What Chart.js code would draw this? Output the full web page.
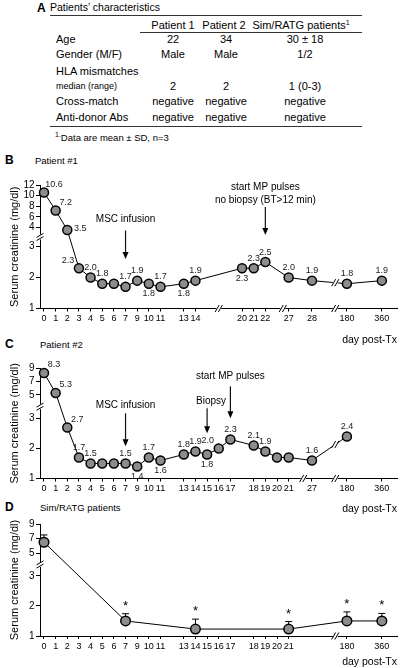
<!DOCTYPE html>
<html>
<head>
<meta charset="utf-8">
<script src="https://cdn.jsdelivr.net/npm/chart.js@4.4.1/dist/chart.umd.min.js"></script>
<style>
  body { margin:0; width:400px; height:668px; position:relative; background:#fff; overflow:hidden;
         font-family:'Liberation Sans', Arial, Helvetica, sans-serif; color:#000; }
  .t { position:absolute; white-space:nowrap; font-size:11px; line-height:13px; transform:translateY(-50%); }
  .c { transform:translate(-50%,-50%); }
  .sm { font-size:9px; }
  .hl { position:absolute; height:0; border-top:1px solid #333; }
  .pl { position:absolute; font-weight:bold; font-size:12px; line-height:14px; transform:translateY(-50%); }
  sup { font-size:7px; vertical-align:4px; line-height:0; }
  canvas { position:absolute; left:0; }
</style>
</head>
<body>
<!-- panel A: table -->
<div class="pl" style="left:37px;top:8px">A</div>
<div class="t" style="left:50px;top:7px;font-size:10.5px">Patients’ characteristics</div>
<div class="hl" style="left:50px;top:15px;width:312px"></div>
<div class="t c" style="left:173px;top:25px">Patient 1</div>
<div class="t c" style="left:224px;top:25px">Patient 2</div>
<div class="t c" style="left:301px;top:25px">Sim/RATG patients<sup>1</sup></div>
<div class="hl" style="left:140px;top:31.5px;width:222px"></div>
<div id="rows"></div>
<div class="hl" style="left:50px;top:126px;width:312px"></div>
<div class="t" style="left:55px;top:137px;font-size:9.5px"><sup>1.</sup>Data are mean ± SD, n=3</div>

<div class="pl" style="left:5px;top:160px">B</div>
<div class="t" style="left:35px;top:160px;font-size:9.5px">Patient #1</div>
<div class="pl" style="left:5px;top:344px">C</div>
<div class="t" style="left:40px;top:344px;font-size:9.5px">Patient #2</div>
<div class="pl" style="left:5px;top:507px">D</div>
<div class="t" style="left:40px;top:507px;font-size:9.5px">Sim/RATG patients</div>

<canvas id="chartB" width="400" height="196" style="top:150px"></canvas>
<canvas id="chartC" width="400" height="160" style="top:355px"></canvas>
<canvas id="chartD" width="400" height="153" style="top:515px"></canvas>

<script>
// ---- table (panel A) ----
const rowNames = ['Age', 'Gender (M/F)', 'HLA mismatches', 'median (range)', 'Cross-match', 'Anti-donor Abs'];
const patient1 = ['22', 'Male', '', '2', 'negative', 'negative'];
const patient2 = ['34', 'Male', '', '2', 'negative', 'negative'];
const simRatg = ['30 ± 18', '1/2', '', '1 (0-3)', 'negative', 'negative'];

// ---- panel B: patient #1 ----
const catsB = ['0','1','2','3','4','5','6','7','9','10','11','','13','14','','','','20','21','22','','27','','28','','','180','','','360'];
const daysB = ['0','1','2','3','4','5','6','7','9','10','11','13','14','20','21','22','27','28','180','360'];
const creatB = [10.6, 7.2, 3.5, 2.3, 2.0, 1.8, 1.8, 1.7, 1.9, 1.8, 1.7, 1.8, 1.9, 2.3, 2.3, 2.5, 2.0, 1.9, 1.8, 1.9];
const labelPosB = ['ar','ar','r','al','a','a','','a','a','b','a','b','a','b','a','a','a','a','a','a'];
const yTicksB = [1, 2, 3, 4, 6, 8, 10, 12];

// ---- panel C: patient #2 ----
const catsC = ['0','1','2','3','4','5','6','7','9','10','11','','13','14','15','16','17','','18','19','20','21','','27','','','180','','','360'];
const daysC = ['0','1','2','3','4','5','6','7','9','10','11','13','14','15','16','17','18','19','20','21','27','180'];
const creatC = [8.3, 5.3, 2.7, 1.7, 1.5, 1.5, 1.5, 1.5, 1.4, 1.7, 1.6, 1.8, 1.9, 1.8, 2.0, 2.3, 2.1, 1.9, 1.7, 1.7, 1.6, 2.4];
const labelPosC = ['ar','ar','ar','a','a','','','a','b','a','b','a','a','b','al','a','a','a','','','a','a'];
const yTicksC = [1, 2, 3, 5, 7, 9];

// ---- panel D: Sim/RATG patients (mean ± SD) ----
const catsD = ['0','1','2','3','4','5','6','7','9','10','11','','13','14','15','16','17','','18','19','20','21','','','','','180','','','360'];
const daysD = ['0', '7', '14', '21', '180', '360'];
const creatD = [6.5, 1.5, 1.23, 1.23, 1.5, 1.5];
const sdD = [1.0, 0.24, 0.33, 0.25, 0.3, 0.25];
const signifD = ['', '*', '*', '*', '*', '*'];
const yTicksD = [1, 2, 3, 5, 7, 9];

// table rows
const rowY = [38.5, 54, 70.5, 86, 101, 116.5];
let html = '';
rowNames.forEach((n, i) => {
  const cls = i === 3 ? 't sm' : 't';
  html += `<div class="${cls}" style="left:56px;top:${rowY[i]}px">${n}</div>`;
  html += `<div class="t c" style="left:173px;top:${rowY[i]}px">${patient1[i]}</div>`;
  html += `<div class="t c" style="left:226px;top:${rowY[i]}px">${patient2[i]}</div>`;
  html += `<div class="t c" style="left:305px;top:${rowY[i]}px">${simRatg[i]}</div>`;
});
document.getElementById('rows').innerHTML = html;

Chart.defaults.font.family = "'Liberation Sans', Arial, Helvetica, sans-serif";
Chart.defaults.color = '#000';

// broken y axis: linear below the break, compressed linear above it
function brokenY(lowTop, upStart, upBase, ratio) {
  return v => v <= lowTop ? v : upStart + (v - upBase) * ratio;
}

const labelOffsets = { a: [0, -10], b: [0, 10], ar: [10, -8], r: [13, -1], al: [-11, -8] };

function slashes(ctx, x, y, horiz) {
  ctx.save();
  ctx.fillStyle = '#fff';
  if (horiz) ctx.fillRect(x - 2.5, y - 1.5, 5, 3);
  else ctx.fillRect(x - 1.5, y - 2.5, 3, 5);
  ctx.strokeStyle = '#000';
  ctx.lineWidth = 1;
  ctx.beginPath();
  for (const k of [-1.6, 1.6]) {
    if (horiz) { ctx.moveTo(x + k - 2, y + 3.5); ctx.lineTo(x + k + 2, y - 3.5); }
    else { ctx.moveTo(x - 3.5, y + k + 2); ctx.lineTo(x + 3.5, y + k - 2); }
  }
  ctx.stroke();
  ctx.restore();
}

function makeExtras(p) {
  return {
    id: 'extras',
    beforeDatasetsDraw(chart) {
      if (!p.sd) return;
      const { ctx, scales: { x, y } } = chart;
      ctx.save();
      ctx.strokeStyle = '#000';
      ctx.lineWidth = 1;
      p.days.forEach((d, i) => {
        const px = x.getPixelForValue(p.cats.indexOf(d));
        const py = y.getPixelForValue(p.t(p.vals[i]));
        const pt = y.getPixelForValue(p.t(p.vals[i] + p.sd[i]));
        ctx.beginPath();
        ctx.moveTo(px, py); ctx.lineTo(px, pt);
        ctx.moveTo(px - 3.5, pt); ctx.lineTo(px + 3.5, pt);
        ctx.stroke();
      });
      ctx.restore();
    },
    afterDraw(chart) {
      const { ctx, chartArea, scales: { x, y } } = chart;
      // axis breaks
      p.xBreaks.forEach(b => slashes(ctx, x.getPixelForValue(b), chartArea.bottom, true));
      slashes(ctx, chartArea.left, y.getPixelForValue(p.yBreak), false);
      // break mark on the line segment
      if (p.lineBreak) {
        const [d0, d1, b] = p.lineBreak;
        const i0 = p.days.indexOf(d0), i1 = p.days.indexOf(d1);
        const x0 = x.getPixelForValue(p.cats.indexOf(d0)), x1 = x.getPixelForValue(p.cats.indexOf(d1));
        const y0 = y.getPixelForValue(p.t(p.vals[i0])), y1 = y.getPixelForValue(p.t(p.vals[i1]));
        const bx = x.getPixelForValue(b);
        const by = y0 + (y1 - y0) * (bx - x0) / (x1 - x0);
        slashes(ctx, bx, by, true);
      }
      // value labels
      ctx.save();
      ctx.textAlign = 'center';
      ctx.textBaseline = 'middle';
      ctx.fillStyle = '#222';
      ctx.font = "9px 'Liberation Sans', Arial, sans-serif";
      if (p.labelPos) p.days.forEach((d, i) => {
        const pos = p.labelPos[i];
        if (!pos) return;
        const px = x.getPixelForValue(p.cats.indexOf(d));
        const py = y.getPixelForValue(p.t(p.vals[i]));
        const [dx, dy] = labelOffsets[pos];
        ctx.fillText(p.vals[i].toFixed(1), px + dx, py + dy);
      });
      // significance stars
      if (p.stars) {
        ctx.fillStyle = '#000';
        ctx.font = "13px 'Liberation Sans', Arial, sans-serif";
        ctx.textBaseline = 'alphabetic';
        p.days.forEach((d, i) => {
          if (!p.stars[i]) return;
          const px = x.getPixelForValue(p.cats.indexOf(d));
          const pt = y.getPixelForValue(p.t(p.vals[i] + p.sd[i]));
          ctx.fillText(p.stars[i], px, pt - 4);
        });
      }
      // annotations with arrows
      ctx.fillStyle = '#000';
      ctx.font = "10px 'Liberation Sans', Arial, sans-serif";
      ctx.textBaseline = 'middle';
      (p.notes || []).forEach(n => {
        const ax = x.getPixelForValue(p.cats.indexOf(n.day));
        const top = chartArea.top;
        n.lines.forEach((s, k) => ctx.fillText(s, ax + (n.dx || 0), top + n.textY + k * 13.5));
        ctx.strokeStyle = '#111';
        ctx.lineWidth = 1.2;
        ctx.beginPath();
        ctx.moveTo(ax, top + n.a0);
        ctx.lineTo(ax, top + n.a1 - 5);
        ctx.stroke();
        ctx.beginPath();
        ctx.moveTo(ax - 3, top + n.a1 - 7);
        ctx.lineTo(ax + 3, top + n.a1 - 7);
        ctx.lineTo(ax, top + n.a1);
        ctx.closePath();
        ctx.fill();
      });
      ctx.restore();
    }
  };
}

function panel(id, p) {
  const pts = p.days.map((d, i) => ({ x: p.cats.indexOf(d), y: p.t(p.vals[i]) }));
  const tickVals = p.yTicks.map(p.t);
  return new Chart(document.getElementById(id), {
    type: 'line',
    data: {
      datasets: [{
        data: pts,
        borderColor: '#000',
        borderWidth: 1,
        pointRadius: p.r,
        pointBackgroundColor: '#8c8c8c',
        pointBorderColor: '#000',
        pointBorderWidth: 1.5,
        tension: 0,
        clip: false
      }]
    },
    options: {
      responsive: false,
      animation: false,
      events: [],
      layout: { autoPadding: false, padding: { top: p.padTop, right: 3, left: 0, bottom: 0 } },
      plugins: { legend: { display: false }, tooltip: { enabled: false } },
      scales: {
        x: {
          type: 'linear', min: -0.343, max: 30.3, bounds: 'data',
          afterBuildTicks: s => { s.ticks = p.cats.map((c, i) => c ? { value: i } : null).filter(Boolean); },
          afterFit: s => { s.height = p.xh; },
          ticks: { autoSkip: false, maxRotation: 0, padding: 2, font: { size: 9 }, callback: v => p.cats[v] },
          grid: { drawOnChartArea: false, tickLength: 3, color: '#000' },
          border: { color: '#000' },
          title: { display: true, text: 'day post-Tx', align: 'end', font: { size: 10.5 }, padding: 0 }
        },
        y: {
          type: 'linear', min: 1, max: tickVals[tickVals.length - 1], bounds: 'data',
          afterBuildTicks: s => { s.ticks = tickVals.map(v => ({ value: v })); },
          afterFit: s => { s.width = 40; },
          ticks: { padding: 1.5, font: { size: 10 }, callback: (v, i) => String(p.yTicks[i]) },
          grid: { drawOnChartArea: false, tickLength: 4, color: '#000' },
          border: { color: '#000' },
          title: { display: true, text: 'Serum creatinine (mg/dl)', font: { size: 11 }, padding: { top: 8, bottom: 0 } }
        }
      }
    },
    plugins: [makeExtras(p)]
  });
}

const tB = brokenY(3.2, 3.62, 4, 0.171);
const tC = brokenY(3.2, 3.78, 5, 0.222);
const tD = brokenY(3.2, 3.75, 5, 0.242);

panel('chartB', {
  cats: catsB, days: daysB, vals: creatB, labelPos: labelPosB, yTicks: yTicksB, t: tB,
  padTop: 35, xh: 37.5, r: 4.5,
  xBreaks: [15, 20.5, 25], yBreak: 3.31, lineBreak: ['28', '180', 25],
  notes: [
    { day: '7', lines: ['MSC infusion'], textY: 34.5, a0: 45.5, a1: 74 },
    { day: '22', lines: ['start MP pulses', 'no biopsy (BT>12 min)'], textY: 2, a0: 22, a1: 50 }
  ]
});

panel('chartC', {
  cats: catsC, days: daysC, vals: creatC, labelPos: labelPosC, yTicks: yTicksC, t: tC,
  padTop: 13.3, xh: 36.5, r: 4.5,
  xBreaks: [22.25, 25], yBreak: 3.39, lineBreak: ['27', '180', 25],
  notes: [
    { day: '7', lines: ['MSC infusion'], textY: 36.5, a0: 45, a1: 78 },
    { day: '15', lines: ['Biopsy'], textY: 33.2, a0: 40, a1: 65, dx: 4 },
    { day: '17', lines: ['start MP pulses'], textY: 8.2, a0: 18, a1: 50 }
  ]
});

panel('chartD', {
  cats: catsD, days: daysD, vals: creatD, sd: sdD, stars: signifD, yTicks: yTicksD, t: tD,
  padTop: 9, xh: 32, r: 4.8,
  xBreaks: [25], yBreak: 3.375
});
</script>
</body>
</html>
